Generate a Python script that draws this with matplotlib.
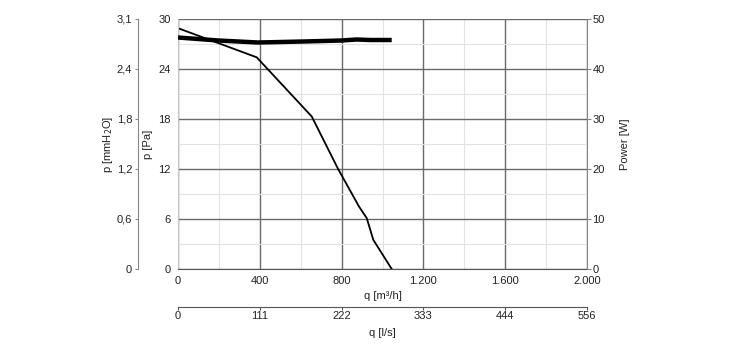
import matplotlib
matplotlib.use("Agg")
import matplotlib.pyplot as plt
from matplotlib.ticker import MultipleLocator

plt.rcParams['font.family'] = ['Liberation Sans', 'DejaVu Sans']
plt.rcParams['font.size'] = 8

# pressure curve, q [m3/h] vs p [Pa]
q_pressure = [0, 385, 654, 783, 885, 923, 955, 1045]
p_pressure = [28.9, 25.4, 18.3, 12.0, 7.5, 6.1, 3.5, 0.0]

# power curve, q [m3/h] vs power [W]
q_power = [0, 197, 392, 612, 800, 873, 939, 1045]
power = [46.3, 45.7, 45.3, 45.5, 45.7, 45.9, 45.8, 45.8]

# axis ticks and labels
q_ticks = [0, 400, 800, 1200, 1600, 2000]
q_labels = ['0', '400', '800', '1.200', '1.600', '2.000']
ls_labels = ['0', '111', '222', '333', '444', '556']
pa_ticks = [0, 6, 12, 18, 24, 30]
pa_labels = ['0', '6', '12', '18', '24', '30']
mm_labels = ['0', '0,6', '1,2', '1,8', '2,4', '3,1']
w_ticks = [0, 10, 20, 30, 40, 50]

txt = '#222222'
spine_col = '#888888'
px = 72 / 100  # points per pixel at 100 dpi

fig = plt.figure(figsize=(7.3, 3.5), dpi=100)
ax = fig.add_axes([178 / 730, 1 - 269 / 350, 409 / 730, 250 / 350])

ax.set_xlim(0, 2000)
ax.set_ylim(0, 30)
ax.set_xticks(q_ticks)
ax.set_xticklabels(q_labels)
ax.set_yticks(pa_ticks)
ax.set_yticklabels(pa_labels)
ax.xaxis.set_minor_locator(MultipleLocator(200))
ax.yaxis.set_minor_locator(MultipleLocator(3))
ax.grid(which='major', color='#6a6a6a', lw=1.0)
ax.grid(which='minor', color='#e2e2e2', lw=0.8)
ax.set_axisbelow(True)
ax.tick_params(which='both', length=0, colors=txt, pad=5)
for s in ['top', 'right']:
    ax.spines[s].set_visible(False)
ax.spines['left'].set_color('#c8c8c8')
ax.spines['bottom'].set_color('#555555')

ax.plot(q_pressure, p_pressure, color='black', lw=1.3)

ax.set_xlabel('q [m³/h]', color=txt)
ax.xaxis.set_label_coords(0.5, -0.108)
ax.xaxis.label.set(va='center', ha='center')
ax.set_ylabel('p [Pa]', color=txt)
ax.yaxis.set_label_coords(-0.073, 0.5)
ax.yaxis.label.set(va='center', ha='center')

# power axis on the right
ax2 = ax.twinx()
ax2.set_ylim(0, 50)
ax2.set_yticks(w_ticks)
ax2.tick_params(length=4 * px, colors=txt, pad=1)
ax2.tick_params(axis='y', color=spine_col)
for s in ['top', 'left', 'bottom']:
    ax2.spines[s].set_visible(False)
ax2.spines['right'].set_color(spine_col)
ax2.plot(q_power, power, color='black', lw=3.2, solid_capstyle='butt')
ax2.set_ylabel('Power [W]', color=txt)
ax2.yaxis.set_label_coords(1.093, 0.5)
ax2.yaxis.label.set(va='center', ha='center')

# mmH2O axis on the left, outward
ax3 = ax.twinx()
ax3.set_ylim(0, 30)
ax3.yaxis.set_ticks_position('left')
ax3.yaxis.set_label_position('left')
ax3.spines['left'].set_position(('outward', 40 * px))
ax3.spines['left'].set_visible(True)
ax3.spines['left'].set_color(spine_col)
for s in ['top', 'right', 'bottom']:
    ax3.spines[s].set_visible(False)
ax3.set_yticks(pa_ticks)
ax3.set_yticklabels(mm_labels)
ax3.tick_params(length=3 * px, colors=txt, pad=2)
ax3.tick_params(axis='y', color=spine_col)
ax3.set_ylabel('p [mmH$_2$O]', color=txt)
ax3.yaxis.set_label_coords(-0.171, 0.5)
ax3.yaxis.label.set(va='center', ha='center')

# l/s axis at the bottom, outward
ax4 = ax.twiny()
ax4.set_xlim(0, 2000)
ax4.xaxis.set_ticks_position('bottom')
ax4.xaxis.set_label_position('bottom')
ax4.spines['bottom'].set_position(('outward', 38 * px))
ax4.spines['bottom'].set_visible(True)
ax4.spines['bottom'].set_color('#555555')
for s in ['top', 'right', 'left']:
    ax4.spines[s].set_visible(False)
ax4.set_xticks(q_ticks)
ax4.set_xticklabels(ls_labels)
ax4.tick_params(length=3 * px, colors=txt, pad=1)
ax4.tick_params(axis='x', color='#555555')
ax4.set_xlabel('q [l/s]', color=txt)
ax4.xaxis.set_label_coords(0.5, -0.256)
ax4.xaxis.label.set(va='center', ha='center')

fig.savefig('out.png', dpi=100)
